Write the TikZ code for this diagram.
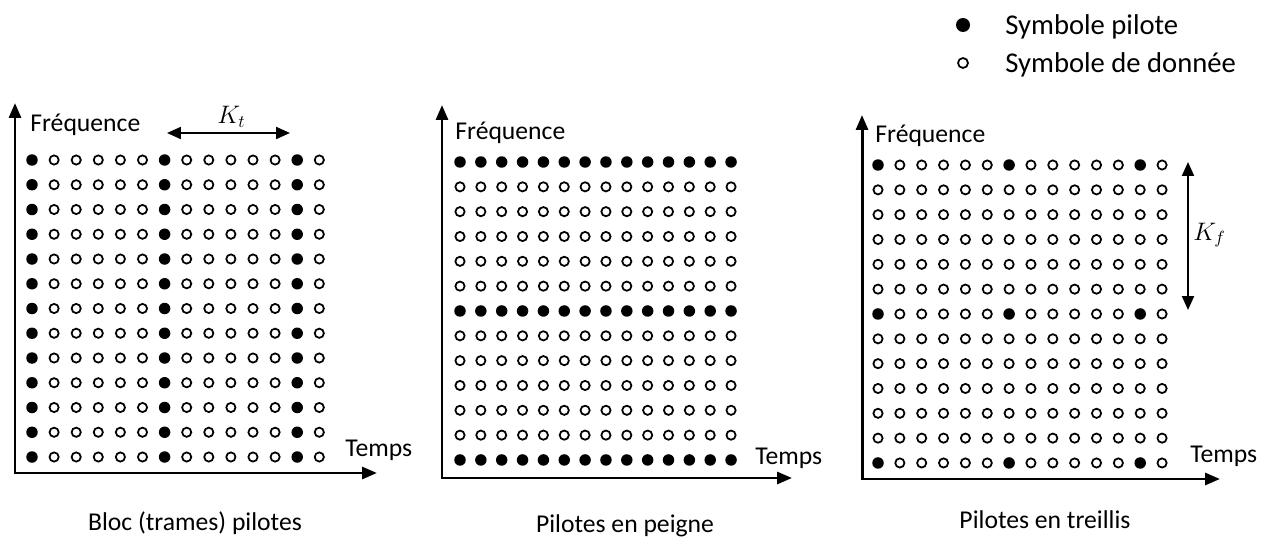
\documentclass[tikz,border=0pt]{standalone}
\usepackage{fontspec}
\setmainfont{Carlito}
\usetikzlibrary{arrows.meta}

\tikzset{
  axis/.style={line width=1.7pt, {Triangle[length=0.3cm,width=0.24cm]}-{Triangle[length=0.3cm,width=0.24cm]}},
  span/.style={line width=1.2pt, {Triangle[length=0.28cm,width=0.24cm]}-{Triangle[length=0.28cm,width=0.24cm]}},
  pilot/.style={fill=black},
  data/.style={draw=black, line width=1pt},
  lbl/.style={font=\fontsize{14.6}{17}\selectfont, inner sep=0pt},
  leg/.style={font=\fontsize{16.3}{19}\selectfont, inner sep=0pt, anchor=base west},
  sym/.style={font=\fontsize{14}{16}\selectfont, inner sep=0pt, anchor=base west}
}

\begin{document}
\begin{tikzpicture}[x=0.02cm, y=-0.02cm]
  \useasboundingbox (0,0) rectangle (1271,537);

  % legende
  \fill[pilot] (963,25) circle (0.14cm);
  \draw[data] (963,63) circle (0.1cm);
  \node[leg] (legp) at (1005,35) {Symbole pilote};
  \node[leg] (legd) at (1005,73) {Symbole de donnée};

  % bloc (trames) pilotes
  \coordinate (fa) at (15,103);
  \coordinate (oa) at (15,473);
  \coordinate (ta) at (377,473);
  \draw[axis] (fa) -- (oa) -- (ta);
  \foreach \i in {1,2,3,4,5,7,8,9,10,11,13}
    \foreach \j in {0,...,12}
      \draw[data] (32+22.1*\i, 160+24.75*\j) circle (0.092cm);
  \foreach \i in {0,6,12}
    \foreach \j in {0,...,12}
      \fill[pilot] (32+22.1*\i, 160+24.75*\j) circle (0.115cm);
  \node[lbl, anchor=base west] (fqa) at (30,132) {Fréquence};
  \node[lbl, anchor=base west] (tpa) at (345,456) {Temps};
  \node[lbl, anchor=base] (capa) at (195,530) {Bloc (trames) pilotes};
  \coordinate (kt1) at (167,133);
  \coordinate (kt2) at (290,133);
  \draw[span] (kt1) -- (kt2);
  \node[sym] (kt) at (217,124) {$K_t$};

  % pilotes en peigne
  \coordinate (fb) at (442,105);
  \coordinate (ob) at (442,478);
  \coordinate (tb) at (792,478);
  \draw[axis] (fb) -- (ob) -- (tb);
  \foreach \i in {0,...,13}
    \foreach \j in {1,2,3,4,5,7,8,9,10,11}
      \draw[data] (460+20.85*\i, 162+24.83*\j) circle (0.092cm);
  \foreach \i in {0,...,13}
    \foreach \j in {0,6,12}
      \fill[pilot] (460+20.85*\i, 162+24.83*\j) circle (0.115cm);
  \node[lbl, anchor=base west] (fqb) at (455,139) {Fréquence};
  \node[lbl, anchor=base west] (tpb) at (755,464) {Temps};
  \node[lbl, anchor=base] (capb) at (625,532) {Pilotes en peigne};

  % pilotes en treillis
  \coordinate (fc) at (862,115);
  \coordinate (oc) at (862,479);
  \coordinate (tc) at (1220,479);
  \draw[axis] (fc) -- (oc) -- (tc);
  \foreach \i in {0,...,13}
    \foreach \j in {1,2,3,4,5,7,8,9,10,11}
      \draw[data] (878+21.85*\i, 165+24.83*\j) circle (0.092cm);
  \foreach \i in {1,2,3,4,5,7,8,9,10,11,13}
    \foreach \j in {0,6,12}
      \draw[data] (878+21.85*\i, 165+24.83*\j) circle (0.092cm);
  \foreach \i in {0,6,12}
    \foreach \j in {0,6,12}
      \fill[pilot] (878+21.85*\i, 165+24.83*\j) circle (0.115cm);
  \node[lbl, anchor=base west] (fqc) at (875,142) {Fréquence};
  \node[lbl, anchor=base west] (tpc) at (1190,462) {Temps};
  \node[lbl, anchor=base] (capc) at (1045,528) {Pilotes en treillis};
  \coordinate (kf1) at (1188,162);
  \coordinate (kf2) at (1188,310);
  \draw[span] (kf1) -- (kf2);
  \node[sym] (kf) at (1193,240) {$K_f$};
\end{tikzpicture}
\end{document}
